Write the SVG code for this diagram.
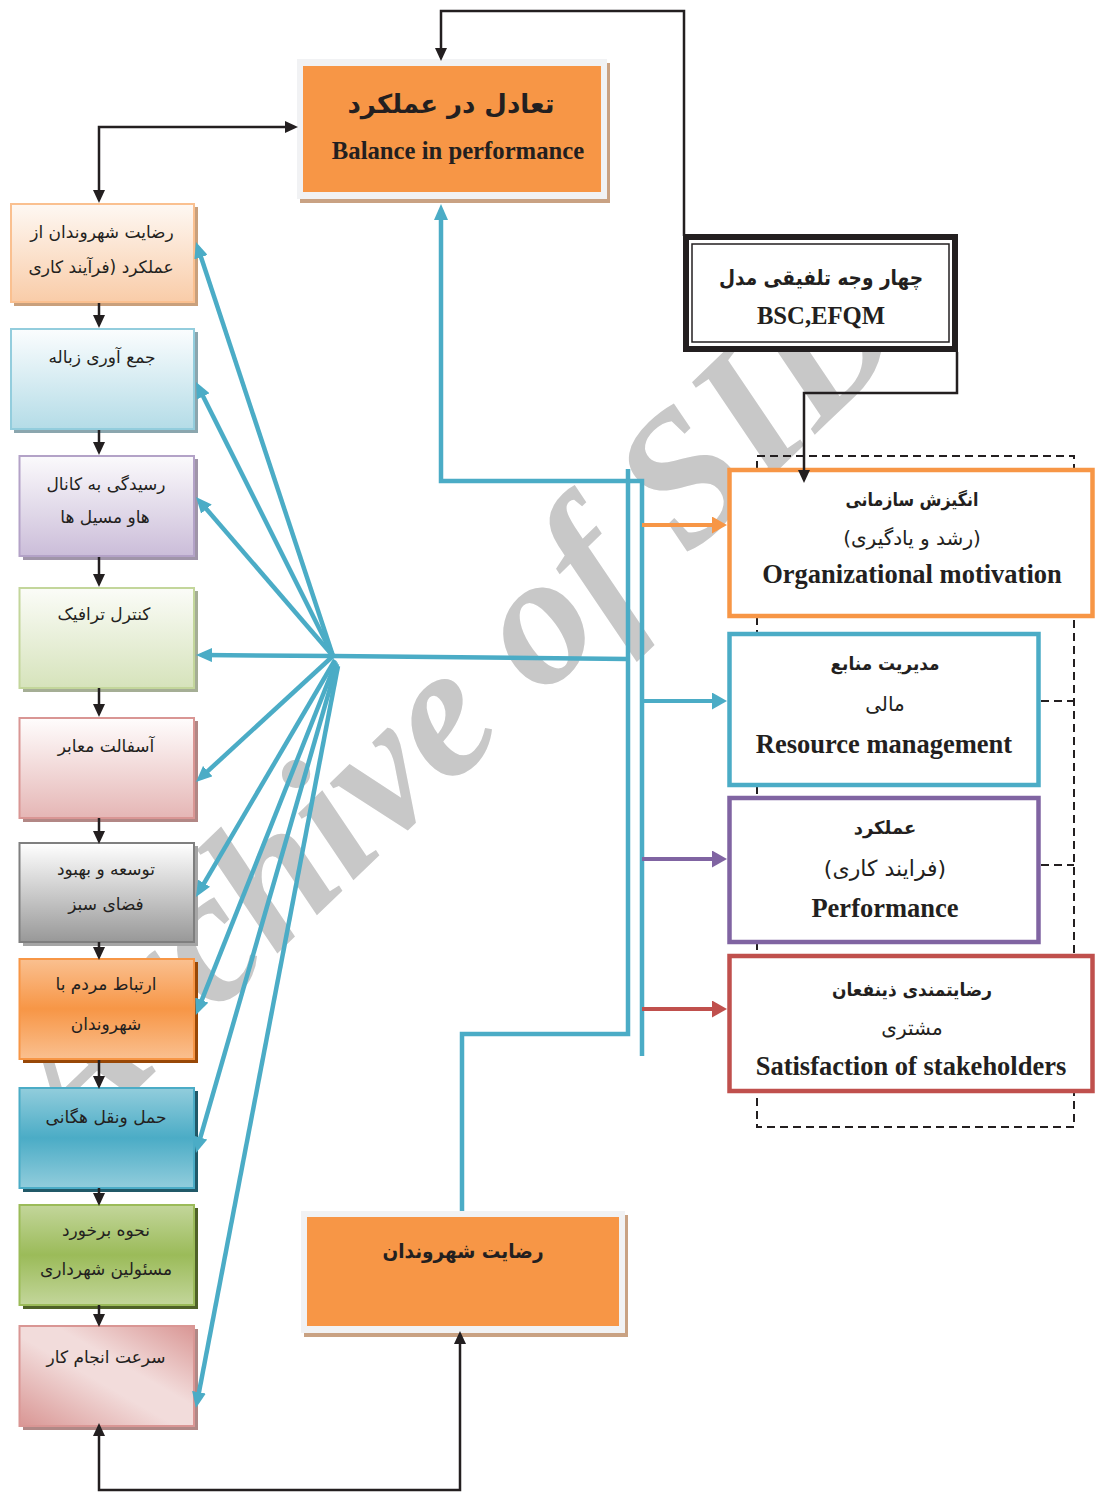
<svg xmlns="http://www.w3.org/2000/svg" width="1097" height="1493" viewBox="0 0 1097 1493">
<defs>
<style>
.ar{font-family:"DejaVu Sans",sans-serif;fill:#231F20;text-anchor:middle;font-size:17px}
.arb{font-family:"DejaVu Sans",sans-serif;font-weight:bold;fill:#231F20;text-anchor:middle}
.arr{font-family:"DejaVu Sans",sans-serif;fill:#231F20;text-anchor:middle}
.en{font-family:"Liberation Serif",serif;font-weight:bold;fill:#231F20;text-anchor:middle}
.blk{fill:none;stroke:#231F20;stroke-width:2.5}
.blu{fill:none;stroke:#4BACC6;stroke-width:4.5}
.frame{fill:#F1F2F4}
.tan{fill:#C9A283}
.orng{fill:#F79646}
.rbox{fill:#FFFFFF;stroke-width:4.5}
.lb{stroke-width:2}
.dash{fill:none;stroke:#231F20;stroke-width:2;stroke-dasharray:8 5}
.wm{font-family:"Liberation Serif",serif;font-weight:bold;font-style:italic;fill:#C8C8C8;font-size:188px}
</style>
<linearGradient id="g1" x1="0" y1="0" x2="0" y2="1"><stop offset="0" stop-color="#FEF8F3"/><stop offset="1" stop-color="#F9CCA8"/></linearGradient>
<linearGradient id="g2" x1="0" y1="0" x2="0" y2="1"><stop offset="0" stop-color="#FBFDFE"/><stop offset="1" stop-color="#B4DCE7"/></linearGradient>
<linearGradient id="g3" x1="0" y1="0" x2="0" y2="1"><stop offset="0" stop-color="#FBFAFC"/><stop offset="1" stop-color="#CBBDD9"/></linearGradient>
<linearGradient id="g4" x1="0" y1="0" x2="0" y2="1"><stop offset="0" stop-color="#FBFCF8"/><stop offset="1" stop-color="#D6E3BB"/></linearGradient>
<linearGradient id="g5" x1="0" y1="0" x2="0" y2="1"><stop offset="0" stop-color="#FFFDFD"/><stop offset="1" stop-color="#E5B6B5"/></linearGradient>
<linearGradient id="g6" x1="0" y1="0" x2="0" y2="1"><stop offset="0" stop-color="#FFFFFF"/><stop offset="1" stop-color="#989898"/></linearGradient>
<linearGradient id="g7" x1="0" y1="0" x2="0" y2="1"><stop offset="0" stop-color="#FAC090"/><stop offset="0.5" stop-color="#F79646"/><stop offset="1" stop-color="#FAC090"/></linearGradient>
<linearGradient id="g8" x1="0" y1="0" x2="0" y2="1"><stop offset="0" stop-color="#92CDDC"/><stop offset="0.5" stop-color="#4BACC6"/><stop offset="1" stop-color="#92CDDC"/></linearGradient>
<linearGradient id="g9" x1="0" y1="0" x2="0" y2="1"><stop offset="0" stop-color="#C3D69B"/><stop offset="0.5" stop-color="#9BBB59"/><stop offset="1" stop-color="#C3D69B"/></linearGradient>
<linearGradient id="g10" x1="0" y1="1" x2="1" y2="0"><stop offset="0" stop-color="#D99694"/><stop offset="0.45" stop-color="#F2DCDB"/><stop offset="0.6" stop-color="#F2DCDB"/><stop offset="1" stop-color="#D99694"/></linearGradient>
<marker id="aBlk" viewBox="0 0 13 12" refX="9" refY="6" markerWidth="13" markerHeight="12" markerUnits="userSpaceOnUse" orient="auto-start-reverse"><path d="M0,0L13,6L0,12z" fill="#231F20"/></marker>
<marker id="aBlu" viewBox="0 0 16 14" refX="10" refY="7" markerWidth="16" markerHeight="14" markerUnits="userSpaceOnUse" orient="auto"><path d="M0,0L16,7L0,14z" fill="#4BACC6"/></marker>
<marker id="aBlu2" viewBox="0 0 15 17" refX="9" refY="8.5" markerWidth="15" markerHeight="17" markerUnits="userSpaceOnUse" orient="auto"><path d="M0,0L15,8.5L0,17z" fill="#4BACC6"/></marker>
<marker id="aOrg" viewBox="0 0 15 17" refX="9" refY="8.5" markerWidth="15" markerHeight="17" markerUnits="userSpaceOnUse" orient="auto"><path d="M0,0L15,8.5L0,17z" fill="#F79646"/></marker>
<marker id="aPur" viewBox="0 0 15 17" refX="9" refY="8.5" markerWidth="15" markerHeight="17" markerUnits="userSpaceOnUse" orient="auto"><path d="M0,0L15,8.5L0,17z" fill="#8064A2"/></marker>
<marker id="aRed" viewBox="0 0 15 17" refX="9" refY="8.5" markerWidth="15" markerHeight="17" markerUnits="userSpaceOnUse" orient="auto"><path d="M0,0L15,8.5L0,17z" fill="#C0504D"/></marker>
</defs>
<rect width="1097" height="1493" fill="#FFFFFF"/>

<text class="wm" x="72" y="1152" transform="rotate(-44 72 1152)">Archive of SID</text>

<g id="group-frame">
<rect class="dash" x="757" y="456" width="317" height="671"/>
<path class="dash" d="M1041,701H1074M1041,865H1074"/>
</g>

<g id="balance">
<rect class="tan" x="300" y="63" width="310" height="140"/>
<rect class="frame" x="297" y="59" width="310" height="140"/>
<rect class="orng" x="303" y="66" width="298" height="126"/>
<text class="arb" x="451" y="113" font-size="26">تعادل در عملکرد</text>
<text class="en" x="458" y="159" font-size="24.7">Balance in performance</text>
</g>

<g id="model">
<rect x="686" y="237" width="269" height="112" fill="#FFFFFF" stroke="#231F20" stroke-width="6"/>
<rect x="692" y="244" width="257" height="98" fill="none" stroke="#231F20" stroke-width="1.5"/>
<text class="arb" x="821" y="285" font-size="21" textLength="204" lengthAdjust="spacingAndGlyphs">چهار وجه تلفیقی مدل</text>
<text class="en" x="821" y="324" font-size="24.7">BSC,EFQM</text>
</g>

<g id="motivation">
<rect class="rbox" x="729.5" y="470" width="363" height="146" stroke="#F79646"/>
<text class="arb" x="912" y="506" font-size="18" textLength="133" lengthAdjust="spacingAndGlyphs">انگیزش سازمانی</text>
<text class="arr" x="912" y="545" font-size="20">(رشد و یادگیری)</text>
<text class="en" x="912" y="583" font-size="26.5">Organizational motivation</text>
</g>

<g id="resource">
<rect class="rbox" x="729.5" y="634" width="309" height="151" stroke="#4BACC6"/>
<text class="arb" x="885" y="670" font-size="18" textLength="109" lengthAdjust="spacingAndGlyphs">مدیریت منابع</text>
<text class="arr" x="885" y="711" font-size="20">مالی</text>
<text class="en" x="884" y="753" font-size="26.5">Resource management</text>
</g>

<g id="performance">
<rect class="rbox" x="729.5" y="798" width="309" height="144" stroke="#8064A2"/>
<text class="arb" x="885" y="834" font-size="18">عملکرد</text>
<text class="arr" x="885" y="876" font-size="22">(فرایند کاری)</text>
<text class="en" x="885" y="917" font-size="26.5">Performance</text>
</g>

<g id="stakeholders">
<rect class="rbox" x="729.5" y="956" width="363" height="135" stroke="#C0504D"/>
<text class="arb" x="912" y="996" font-size="18" textLength="160" lengthAdjust="spacingAndGlyphs">رضایتمندی ذینفعان</text>
<text class="arr" x="912" y="1035" font-size="20">مشتری</text>
<text class="en" x="911" y="1075" font-size="26.5">Satisfaction of stakeholders</text>
</g>

<g id="citizens">
<rect class="tan" x="304" y="1215" width="324" height="122"/>
<rect class="frame" x="301" y="1211" width="324" height="122"/>
<rect class="orng" x="307" y="1217" width="312" height="109"/>
<text class="arb" x="463" y="1258" font-size="20" textLength="161" lengthAdjust="spacingAndGlyphs">رضایت شهروندان</text>
</g>

<g id="box1">
<rect x="14" y="207" width="184" height="99" fill="#C9A07C"/>
<rect class="lb" x="11" y="204" width="183" height="98" fill="url(#g1)" stroke="#FAC090"/>
<text class="ar" x="102" y="238">رضایت شهروندان از</text>
<text class="ar" x="101" y="273">عملکرد (فرآیند کاری</text>
</g>
<g id="box2">
<rect x="14" y="332" width="184" height="101" fill="#8BA6AE"/>
<rect class="lb" x="11" y="329" width="183" height="100" fill="url(#g2)" stroke="#93CDDD"/>
<text class="ar" x="102" y="363">جمع آوری زباله</text>
</g>
<g id="box3">
<rect x="23" y="459" width="175" height="101" fill="#A095A9"/>
<rect class="lb" x="19.5" y="456" width="174.5" height="100" fill="url(#g3)" stroke="#B3A2C7"/>
<text class="ar" x="106" y="490">رسیدگی به کانال</text>
<text class="ar" x="105" y="523">هاو مسیل ها</text>
</g>
<g id="box4">
<rect x="23" y="591" width="175" height="101" fill="#A5AE95"/>
<rect class="lb" x="19.5" y="588" width="174.5" height="100" fill="url(#g4)" stroke="#C3D69B"/>
<text class="ar" x="104" y="620">کنترل ترافیک</text>
</g>
<g id="box5">
<rect x="23" y="721" width="175" height="101" fill="#B28785"/>
<rect class="lb" x="19.5" y="718" width="174.5" height="100" fill="url(#g5)" stroke="#D99694"/>
<text class="ar" x="106" y="752">آسفالت معابر</text>
</g>
<g id="box6">
<rect x="23" y="846" width="175" height="100" fill="#A5A5A5"/>
<rect class="lb" x="19.5" y="843" width="174.5" height="99" fill="url(#g6)" stroke="#7F7F7F"/>
<text class="ar" x="106" y="875">توسعه و بهبود</text>
<text class="ar" x="106" y="910">فضای سبز</text>
</g>
<g id="box7">
<rect x="23" y="962" width="175" height="101" fill="#984807"/>
<rect class="lb" x="19.5" y="959" width="174.5" height="100" fill="url(#g7)" stroke="#F79646"/>
<text class="ar" x="106" y="990">ارتباط مردم با</text>
<text class="ar" x="106" y="1030">شهروندان</text>
</g>
<g id="box8">
<rect x="23" y="1091" width="175" height="101" fill="#215968"/>
<rect class="lb" x="19.5" y="1088" width="174.5" height="100" fill="url(#g8)" stroke="#4BACC6"/>
<text class="ar" x="106" y="1123">حمل ونقل هگانی</text>
</g>
<g id="box9">
<rect x="23" y="1208" width="175" height="101" fill="#4F6228"/>
<rect class="lb" x="19.5" y="1205" width="174.5" height="100" fill="url(#g9)" stroke="#9BBB59"/>
<text class="ar" x="106" y="1236">نحوه برخورد</text>
<text class="ar" x="106" y="1275">مسئولین شهرداری</text>
</g>
<g id="box10">
<rect x="23" y="1329" width="175" height="101" fill="#B08886"/>
<rect class="lb" x="19.5" y="1326" width="174.5" height="100" fill="url(#g10)" stroke="#D99694"/>
<text class="ar" x="106" y="1363">سرعت انجام کار</text>
</g>

<g id="connectors">
<path class="blk" d="M99,303V324" marker-end="url(#aBlk)"/>
<path class="blk" d="M99,430V451" marker-end="url(#aBlk)"/>
<path class="blk" d="M99,557V583" marker-end="url(#aBlk)"/>
<path class="blk" d="M99,688V713" marker-end="url(#aBlk)"/>
<path class="blk" d="M99,818V840" marker-end="url(#aBlk)"/>
<path class="blk" d="M99,942V956" marker-end="url(#aBlk)"/>
<path class="blk" d="M99,1060V1085" marker-end="url(#aBlk)"/>
<path class="blk" d="M99,1188V1202" marker-end="url(#aBlk)"/>
<path class="blk" d="M99,1305V1323" marker-end="url(#aBlk)"/>
<path class="blk" d="M99,199V127H294" marker-start="url(#aBlk)" marker-end="url(#aBlk)"/>
<path class="blk" d="M684,236V11H441V57" marker-end="url(#aBlk)"/>
<path class="blk" d="M957,352V393H804V479" marker-end="url(#aBlk)"/>
<path class="blk" d="M99,1427V1490H460V1335" marker-start="url(#aBlk)" marker-end="url(#aBlk)"/>

<path class="blu" d="M333,656L197.9,247.7" marker-end="url(#aBlu)"/>
<path class="blu" d="M333,656L198.7,387.4" marker-end="url(#aBlu)"/>
<path class="blu" d="M333,656L199.9,501.5" marker-end="url(#aBlu)"/>
<path class="blu" d="M333,656L202,655" marker-end="url(#aBlu)"/>
<path class="blu" d="M333,656L200.4,777.9" marker-end="url(#aBlu)"/>
<path class="blu" d="M335,660L199,891.8" marker-end="url(#aBlu)"/>
<path class="blu" d="M336,662L198.1,1009.4" marker-end="url(#aBlu)"/>
<path class="blu" d="M337,664L197.6,1147.2" marker-end="url(#aBlu)"/>
<path class="blu" d="M338,666L197.1,1402.1" marker-end="url(#aBlu)"/>
<path class="blu" d="M333,656L628,659"/>
<path class="blu" d="M628,469V1034H462V1211"/>
<path class="blu" d="M642,1056V481H441V210" marker-end="url(#aBlu)"/>
<path d="M642,525H721" fill="none" stroke="#F79646" stroke-width="4" marker-end="url(#aOrg)"/>
<path d="M642,701H721" fill="none" stroke="#4BACC6" stroke-width="4" marker-end="url(#aBlu2)"/>
<path d="M642,859H721" fill="none" stroke="#8064A2" stroke-width="4" marker-end="url(#aPur)"/>
<path d="M642,1009H721" fill="none" stroke="#C0504D" stroke-width="4" marker-end="url(#aRed)"/>
</g>
</svg>
